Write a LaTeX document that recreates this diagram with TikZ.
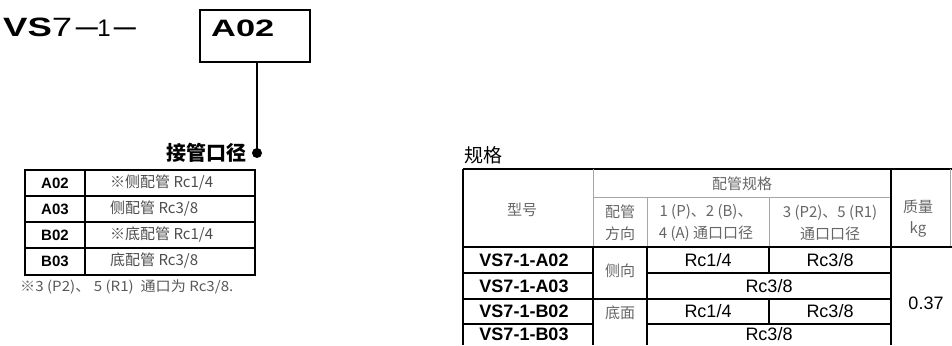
\documentclass[tikz,border=0pt]{standalone}
\usepackage{fontspec}
\setmainfont{Liberation Sans}
\newfontfamily\cjk{Noto Sans CJK SC}
\newcommand{\fsz}[1]{\fontsize{#1}{#1}\selectfont}

\begin{document}
\begin{tikzpicture}[x=1pt, y=-1pt,
    every node/.style={inner sep=0pt},
    grid/.style={line width=1.1pt},
    faint/.style={line width=0.6pt, black!35},
    heavy/.style={line width=2pt},
    model/.style={font=\fsz{18}\bfseries},
    spec/.style={font=\fsz{18}},
    head/.style={font=\cjk\fontsize{15}{22}\selectfont, text=black!60, align=center},
    choice/.style={font=\cjk\fsz{15}, text=black!70, anchor=west}]
  \useasboundingbox (0,0) rectangle (952,345);

  % ordering code
  \path (3,37) node[anchor=base west, font=\fsz{26.5}] (series) {\scalebox{1.38}[1]{\textbf{VS}7}};
  \path (87,34.2) node[anchor=base, font=\fsz{21}\bfseries] (dash1) {\scalebox{1.05}[1]{—}};
  \path (104,37) node[anchor=base, font=\fsz{24}] (body) {1};
  \path (125,34.2) node[anchor=base, font=\fsz{21}\bfseries] (dash2) {\scalebox{1.05}[1]{—}};
  \path (255,36) node[draw, line width=1.4pt, minimum width=110pt, minimum height=52pt] (port) {};
  \path (211,37) node[anchor=base west, font=\fsz{23.7}\bfseries] (portcode) {\scalebox{1.45}[1]{A02}};
  \path (257,153) node[circle, fill, minimum size=10pt] (dot) {};
  \draw[line width=1.2pt] (dot |- port.south) -- (dot.center);
  \path (dot.west) + (-5,0) node[anchor=east, font=\cjk\fsz{20}\bfseries] (portlabel) {接管口径};

  % port table
  \draw[grid] (25,170) rectangle (255,275);
  \draw[heavy] (25,170) -- (255,170);
  \draw[grid] (85,170) -- (85,275);
  \foreach \y in {196,222,248}
    \draw[grid] (25,\y) -- (255,\y);
  \path (55,183) node[font=\fsz{15}\bfseries] (a02) {A02};
  \path (55,209) node[font=\fsz{15}\bfseries] (a03) {A03};
  \path (55,235) node[font=\fsz{15}\bfseries] (b02) {B02};
  \path (55,261) node[font=\fsz{15}\bfseries] (b03) {B03};
  \path (110,183) node[choice] (a02txt) {※侧配管 Rc1/4};
  \path (110,209) node[choice] (a03txt) {侧配管 Rc3/8};
  \path (110,235) node[choice] (b02txt) {※底配管 Rc1/4};
  \path (110,261) node[choice] (b03txt) {底配管 Rc3/8};
  \path (20,287) node[anchor=west, font=\cjk\fsz{14}, text=black!65] (footnote)
    {\scalebox{1.08}[1]{※3\ (P2)、\ 5\ (R1)\ \ 通口为\ Rc3/8.}};

  % spec table
  \path (483,155) node[font=\cjk\fsz{19}] (spectitle) {规格};
  \draw[heavy] (463,169) -- (952,169);
  \draw[grid] (463,169) -- (463,345);
  \draw[faint] (593,169) -- (593,247) (593,197) -- (891,197)
    (647,197) -- (647,247) (769,197) -- (769,247) (950,169) -- (950,247);
  \draw[grid] (891,169) -- (891,345) (463,247) -- (952,247);
  \draw[grid] (593,247) -- (593,345) (647,247) -- (647,345)
    (769,247) -- (769,273) (769,299) -- (769,324);
  \draw[grid] (463,273) -- (593,273) (647,273) -- (891,273)
    (463,299) -- (891,299)
    (463,324) -- (593,324) (647,324) -- (891,324);

  \path (522,210) node[head] (type) {型号};
  \path (742,184) node[head] (piping) {配管规格};
  \path (620,223) node[head] (direction) {配管\\方向};
  \path (706,223) node[head] (mainport) {1 (P)、2 (B)、\\4 (A) 通口口径};
  \path (830,223) node[head] (exhport) {3 (P2)、5 (R1)\\通口口径};
  \path (918,219) node[head, font=\cjk\fontsize{15}{21}\selectfont] (mass) {质量\\kg};

  \path (524,260) node[model] (m1) {VS7-1-A02};
  \path (524,286) node[model] (m2) {VS7-1-A03};
  \path (524,311) node[model] (m3) {VS7-1-B02};
  \path (524,334) node[model] (m4) {VS7-1-B03};
  \path (620,271) node[head] (side) {侧向};
  \path (620,313) node[head] (bottom) {底面};
  \path (708,260) node[spec] (p1) {Rc1/4};
  \path (830,260) node[spec] (e1) {Rc3/8};
  \path (769,286) node[spec] (pe2) {Rc3/8};
  \path (708,311) node[spec] (p3) {Rc1/4};
  \path (830,311) node[spec] (e3) {Rc3/8};
  \path (769,334) node[spec] (pe4) {Rc3/8};
  \path (926,303) node[spec] (weight) {0.37};
\end{tikzpicture}
\end{document}
